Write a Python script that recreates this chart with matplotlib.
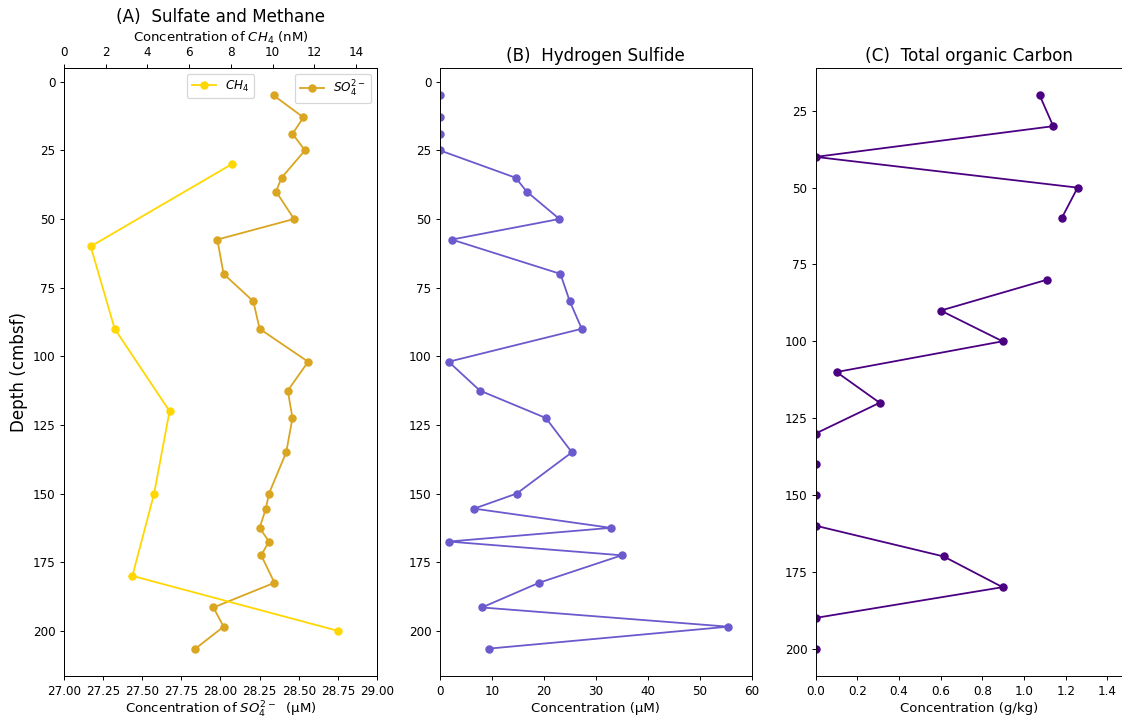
import numpy as np
import matplotlib
matplotlib.use("Agg")
import matplotlib.pyplot as plt

nan = np.nan

# (A) sulfate
so4_depth = [5, 13, 19, 25, 35, 40, 50, 57.5, 70, 80, 90, 102, 112.5, 122.5, 135, 150,
             155.5, 162.5, 167.5, 172.5, 182.5, 191.5, 198.5, 206.5]
so4_conc = [28.34, 28.53, 28.46, 28.54, 28.39, 28.355, 28.47, 27.98, 28.02, 28.21, 28.25, 28.56,
            28.43, 28.46, 28.42, 28.31, 28.29, 28.25, 28.31, 28.26, 28.345, 27.955, 28.02, 27.84]

# (A) methane
ch4_depth = [30, 60, 90, 120, 150, 180, 200]
ch4_conc = [8.05, 1.28, 2.43, 5.06, 4.32, 3.28, 13.12]

# (B) hydrogen sulfide
h2s_depth = [5, 13, 19, 25, 35, 40, 50, 57.5, 70, 80, 90, 102, 112.5, 122.5, 135, 150,
             155.5, 162.5, 167.5, 172.5, 182.5, 191.5, 198.5, 206.5]
h2s_conc = [0, 0, 0, 0, 14.6, 16.7, 23.0, 2.3, 23.2, 25.0, 27.3, 1.7,
            7.7, 20.4, 25.4, 14.8, 6.6, 32.9, 1.7, 35.0, 19.1, 8.1, 55.5, 9.4]

# (C) total organic carbon (nan = gap in the line)
toc_depth = [20, 30, 40, 50, 60, 70, 80, 90, 100, 110, 120, 130, 135, 140, 145, 150, 155,
             160, 170, 180, 190, 195, 200]
toc_conc = [1.075, 1.14, 0, 1.257, 1.18, nan, 1.108, 0.60, 0.897, 0.10, 0.307, 0, nan, 0, nan, 0, nan,
            0, 0.614, 0.897, 0, nan, 0]

DPI = 86.4
fig = plt.figure(figsize=(1122 / DPI, 721 / DPI), dpi=DPI)
ax1 = fig.add_axes([0.057, 0.062, 0.279, 0.844])
ax2 = fig.add_axes([0.392, 0.062, 0.278, 0.844], sharey=ax1)
ax3 = fig.add_axes([0.727, 0.062, 0.273, 0.844])

# panel A
ax1.plot(so4_conc, so4_depth, "-o", color="goldenrod", label="$SO_4^{2-}$")
ax1.set_xlim(27, 29)
ax1.set_xlabel("Concentration of $SO_4^{2-}$  (\u00b5M)", fontsize=11, labelpad=2)
ax1.set_ylabel("Depth (cmbsf)", fontsize=14)
ax1.legend(loc="upper right")

ax1b = ax1.twiny()
ax1b.plot(ch4_conc, ch4_depth, "-o", color="gold", label="$CH_4$")
ax1b.set_xlim(0, 15)
ax1b.set_xticks([0, 2, 4, 6, 8, 10, 12, 14])
ax1b.set_xlabel("Concentration of $CH_4$ (nM)", fontsize=11)
ax1b.legend(loc="upper center")
ax1b.set_title("(A)  Sulfate and Methane", fontsize=14)

# panel B
ax2.plot(h2s_conc, h2s_depth, "-o", color="slateblue")
ax2.set_xlim(0, 60)
ax2.set_xlabel("Concentration (\u00b5M)", fontsize=11)
ax2.set_title("(B)  Hydrogen Sulfide", fontsize=14)
ax2.tick_params(labelleft=True)
ax1.invert_yaxis()

# panel C
ax3.plot(toc_conc, toc_depth, "-o", color="indigo")
ax3.set_xlim(0, 1.47)
ax3.set_xticks([0, 0.2, 0.4, 0.6, 0.8, 1.0, 1.2, 1.4])
ax3.set_xlabel("Concentration (g/kg)", fontsize=11)
ax3.set_title("(C)  Total organic Carbon", fontsize=14)
ax3.invert_yaxis()

fig.savefig("out.png", dpi=DPI)
